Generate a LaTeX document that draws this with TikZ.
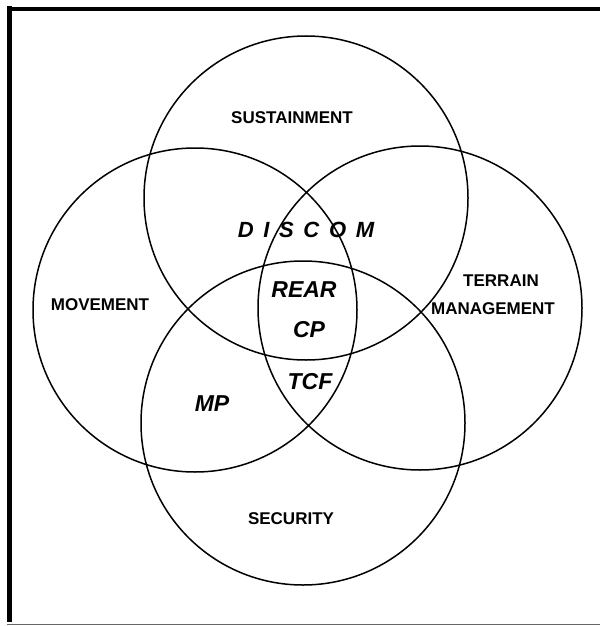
\documentclass[tikz,border=0pt]{standalone}
\usepackage{fontspec}
\setmainfont{Liberation Sans}
\usepackage{tikz}
\usetikzlibrary{positioning}

\begin{document}
\begin{tikzpicture}[
    x=1pt, y=-1pt,
    ring/.style={circle, draw, line width=1.5pt, minimum size=324pt, inner sep=0pt},
    area/.style={font=\fontsize{17}{20}\selectfont\bfseries, inner sep=1pt},
    unit/.style={font=\fontsize{23}{26}\selectfont\bfseries\itshape, inner sep=1pt}
]
\useasboundingbox (0,0) rectangle (600,626);

% --- frame ---
\draw[line width=5pt] (9,6) -- (9,622);
\draw[line width=4pt] (7,9) -- (600,9);
\draw[line width=1pt, black!60] (7,624) -- (600,624);

% --- circles ---
\node[ring] (sust) at (306,198) {};
\node[ring] (move) at (195,310) {};
\node[ring] (terr) at (420,308) {};
\node[ring] (secu) at (303,423) {};

% --- functional areas ---
\node[area] (sustlbl) at (292,118) {SUSTAINMENT};
\node[area] (movelbl) at (100,305) {MOVEMENT};
\node[area] (terrlbl) at (501,281) {TERRAIN};
\node[area] (mgmtlbl) at (493,309) {MANAGEMENT};
\node[area] (seculbl) at (291,519) {SECURITY};

% --- units ---
\node[unit, font=\fontsize{22}{26}\selectfont\bfseries\itshape\addfontfeatures{LetterSpace=44}]
  (discom) at (306,230) {DISCOM};
\node[unit] (rear) at (304,290) {REAR};
\node[unit] (cp)   at (309,330) {CP};
\node[unit] (tcf)  at (310,382) {TCF};
\node[unit] (mp)   at (212,404) {MP};

\end{tikzpicture}
\end{document}
